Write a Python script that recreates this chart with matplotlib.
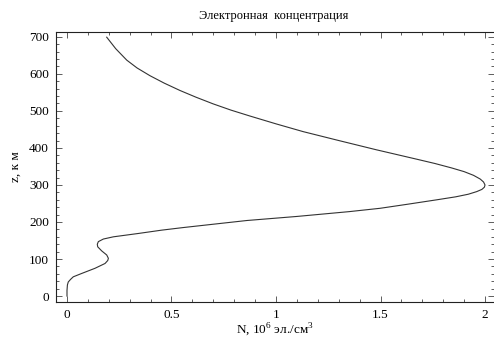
import matplotlib
matplotlib.use('Agg')
import matplotlib.pyplot as plt
from matplotlib.ticker import MultipleLocator

# высота, км
z_km = [0, 15, 30, 38, 45, 52, 61, 75, 88, 96, 102, 111, 122, 133, 140, 147,
        154, 160, 169, 178, 185, 204, 215, 228, 237, 248, 260, 268, 275, 282,
        288, 294, 300, 308, 316, 326, 336, 346, 358, 370, 395, 420, 444, 465,
        486, 502, 519, 537, 555, 575, 595, 616, 637, 668, 699]
# концентрация, 10^6 эл./см^3
n_e = [0.0, 0.0, 0.002, 0.006, 0.017, 0.03, 0.07, 0.134, 0.182, 0.195,
       0.198, 0.19, 0.166, 0.147, 0.145, 0.15, 0.174, 0.222, 0.341, 0.453,
       0.556, 0.86, 1.1, 1.35, 1.498, 1.63, 1.77, 1.86, 1.92, 1.96, 1.985,
       1.997, 2.0, 1.993, 1.977, 1.945, 1.9, 1.84, 1.76, 1.67, 1.48, 1.3,
       1.13, 1.0, 0.876, 0.785, 0.699, 0.617, 0.541, 0.465, 0.397, 0.335,
       0.286, 0.233, 0.19]

plt.rcParams['font.family'] = ['Liberation Serif', 'DejaVu Serif']
plt.rcParams['font.size'] = 9.5
plt.rcParams['mathtext.fontset'] = 'custom'
plt.rcParams['mathtext.rm'] = 'Liberation Serif'

fig = plt.figure(figsize=(4.94, 3.39), dpi=100)
ax = fig.add_axes([56 / 494, 1 - 302 / 339, 438 / 494, 270 / 339])

ax.plot(n_e, z_km, color='#333333', linewidth=0.8)

ax.set_xlim(-0.0526, 2.043)
ax.set_ylim(-16, 713)

ax.xaxis.set_major_locator(MultipleLocator(0.5))
ax.xaxis.set_minor_locator(MultipleLocator(0.1))
ax.yaxis.set_major_locator(MultipleLocator(100))
ax.yaxis.set_minor_locator(MultipleLocator(20))
ax.set_xticks([0, 0.5, 1, 1.5, 2])
ax.set_xticklabels(['0', '0.5', '1', '1.5', '2'])

ax.tick_params(which='both', direction='in', top=True, right=True,
               width=0.6, color='#444444')
ax.tick_params(which='major', length=4, pad=5)
ax.tick_params(which='minor', length=2)

for side in ['left', 'bottom', 'top']:
    ax.spines[side].set_linewidth(0.8)
    ax.spines[side].set_color('#222222')
ax.spines['right'].set_visible(False)

ax.set_title('Электронная  концентрация', fontsize=9, pad=9, x=0.497)
ax.set_xlabel('N, 10$^\\mathrm{6}$ эл./см$^\\mathrm{3}$', labelpad=0)
ax.set_ylabel('z, к м', labelpad=5)

fig.savefig('out.png', dpi=100)
